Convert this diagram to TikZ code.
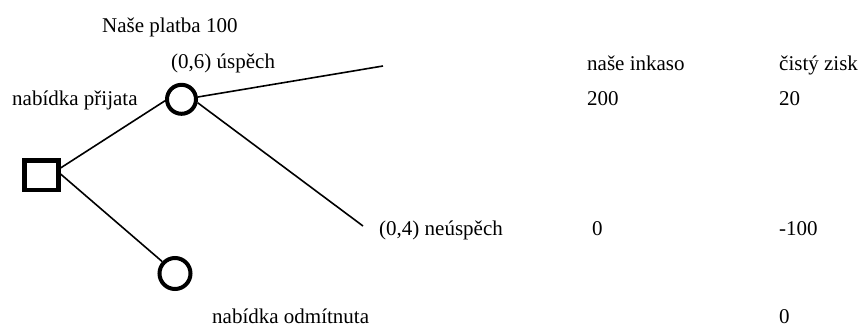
\documentclass[tikz,border=0pt]{standalone}
\usepackage{fontspec}
\setmainfont{Liberation Serif}
\begin{document}
\begin{tikzpicture}[x=1pt,y=-1pt,
  txt/.style={anchor=base west,inner sep=0pt,font=\fontsize{21}{25}\selectfont},
  decision/.style={draw,rectangle,line width=4.5pt,minimum width=34pt,minimum height=29.5pt,inner sep=0pt},
  chance/.style={draw,circle,line width=4pt,minimum size=29pt,inner sep=0pt},
  branch/.style={line width=1.6pt}]
\useasboundingbox (0,0) rectangle (861,327);
\node[decision] (s) at (41.3,175) {};
\node[chance] (c1) at (181.5,99.3) {};
\node[chance,minimum size=31pt] (c2) at (175,273.5) {};
\coordinate (e1) at (383,66);
\coordinate (e2) at (363,226);
\draw[branch] (s.20) -- (c1.185);
\draw[branch] (s.3) -- (c2.137);
\draw[branch] (c1.8) -- (e1);
\draw[branch] (c1.-12) -- (e2);
\node[txt] (t1) at (102,32) {Naše platba 100};
\node[txt] (t2) at (171,68) {(0,6) úspěch};
\node[txt] (t3) at (12,105) {nabídka přijata};
\node[txt] (t4) at (587,70) {naše inkaso};
\node[txt] (t5) at (779,70) {čistý zisk};
\node[txt] (t6) at (587,105) {200};
\node[txt] (t7) at (779,105) {20};
\node[txt] (t8) at (379,235) {(0,4) neúspěch};
\node[txt] (t9) at (592,235) {0};
\node[txt] (t10) at (779,235) {-100};
\node[txt] (t11) at (212,323.5) {nabídka odmítnuta};
\node[txt] (t12) at (779,323.5) {0};
\end{tikzpicture}
\end{document}
